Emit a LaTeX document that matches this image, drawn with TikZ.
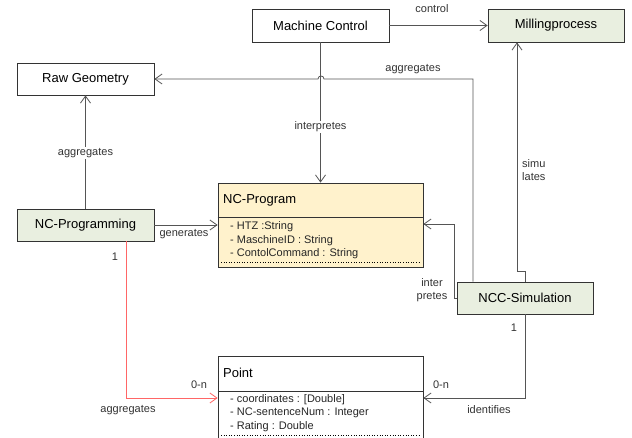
\documentclass[tikz,border=0pt]{standalone}
\usepackage{fontspec}
\setmainfont{Liberation Sans}
\usetikzlibrary{arrows.meta}
\definecolor{greenfill}{HTML}{E9EFE0}
\definecolor{yellowfill}{HTML}{FFF2CC}
\definecolor{linegray}{HTML}{555555}
\definecolor{bordergray}{HTML}{333333}
\definecolor{redline}{HTML}{FF6666}
\begin{document}
\begin{tikzpicture}[x=1pt,y=-1pt,
  box/.style={draw=bordergray,line width=0.8pt,rectangle,inner sep=0pt,font=\fontsize{13}{15}\selectfont},
  greenbox/.style={box,fill=greenfill},
  conn/.style={draw=linegray,line width=0.8pt,-{Straight Barb[length=7pt,width=10pt]}},
  redconn/.style={draw=redline,line width=0.8pt,-{Straight Barb[length=7pt,width=10pt]}},
  lbl/.style={font=\fontsize{11}{12.5}\selectfont,inner sep=1pt,text=black!80},
  attr/.style={font=\fontsize{11}{12.5}\selectfont,inner sep=0pt,anchor=west,text=black!85},
  title/.style={font=\fontsize{13}{15}\selectfont,inner sep=0pt,anchor=west}]
\useasboundingbox (0,0) rectangle (632,438);
\clip (0,0) rectangle (632,438);
\fill[white] (0,0) rectangle (632,438);

% plain and green boxes
\node[box,minimum width=137pt,minimum height=33pt] (mc) at (320.5,25.5) {Machine Control};
\node[greenbox,minimum width=136pt,minimum height=33pt] (mp) at (556,25.5) {Millingprocess};
\node[box,minimum width=137pt,minimum height=32pt] (rg) at (85.5,79) {Raw Geometry};
\node[greenbox,minimum width=137pt,minimum height=32pt] (ncpg) at (85.5,225) {NC-Programming};
\node[greenbox,minimum width=136pt,minimum height=32pt] (ncc) at (525,298) {NCC-Simulation};

% class NC-Program
\node[box,fill=yellowfill,minimum width=205pt,minimum height=84pt] (ncp) at (320.5,225) {};
\node[title] (ncpt) at (223,200) {NC-Program};
\draw[bordergray,line width=0.8pt] (ncp.west |- 0,217) -- (ncp.east |- 0,217);
\node[attr] (a1) at (230,227) {- HTZ :String};
\node[attr] (a2) at (230,241) {- MaschineID : String};
\node[attr] (a3) at (230,254) {- ContolCommand : String};
\draw[black,line width=0.6pt,dotted] (221,262) -- (420,262);

% class Point
\node[box,fill=white,minimum width=205pt,minimum height=92pt] (pt) at (320.5,402) {};
\node[title] (ptt) at (223,373) {Point};
\draw[bordergray,line width=0.8pt] (pt.west |- 0,391) -- (pt.east |- 0,391);
\node[attr] (b1) at (230,400) {- coordinates : [Double]};
\node[attr] (b2) at (230,413) {- NC-sentenceNum : Integer};
\node[attr] (b3) at (230,427) {- Rating : Double};
\draw[black,line width=0.6pt,dotted] (221,435) -- (420,435);

% connectors
\draw[conn] (mc.east) -- (mp.west);
\node[lbl] (lcontrol) at (432,9) {control};

\draw[conn] (mc.south) -- (ncp.north);
\node[lbl,fill=white] (linterp) at (320.5,127) {interpretes};

\draw[conn] (ncc.north -| 473,0) -- (473,79) -- (324,79)
  .. controls (324,75) and (318,75) .. (318,79) -- (rg.east);
\node[lbl] (laggr1) at (413,69) {aggregates};

\draw[conn] (ncc.north) -- (525,271) -- (517,271) -- (mp.south -| 517,0);
\node[lbl,align=left,anchor=west] (lsim) at (521,170) {simu\\lates};

\draw[conn] (ncc.west) -- (454,298) -- (454,224) -- (ncp.east |- 0,224);
\node[lbl,align=center] (linter) at (432,290) {inter\\pretes};

\draw[conn] (ncpg.east) -- (ncpg.east -| ncp.west);
\node[lbl] (lgen) at (184,234) {generates};

\draw[conn] (ncpg.north) -- (rg.south);
\node[lbl,fill=white] (laggr2) at (85.5,153) {aggregates};

\draw[redconn] (ncpg.south -| 126,0) |- (pt.west |- 0,398);
\node[lbl] (l1a) at (115,257) {1};
\node[lbl] (l0na) at (199,385) {0-n};
\node[lbl] (laggr3) at (128,410) {aggregates};

\draw[conn] (ncc.south) |- (pt.east |- 0,398);
\node[lbl] (l1b) at (514,328) {1};
\node[lbl] (l0nb) at (441,385) {0-n};
\node[lbl] (lident) at (489,410) {identifies};
\end{tikzpicture}
\end{document}
